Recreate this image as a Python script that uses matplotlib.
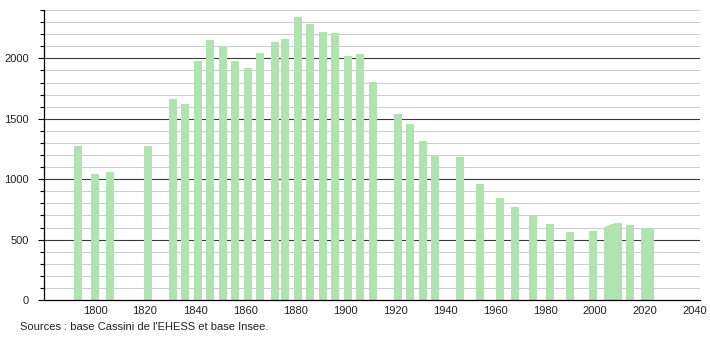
import matplotlib
matplotlib.use("Agg")
import matplotlib.pyplot as plt
from matplotlib.ticker import MultipleLocator

plt.rcParams['font.family'] = ['Liberation Sans', 'DejaVu Sans']

# census years and population
annees = [1793, 1800, 1806, 1821, 1831, 1836, 1841, 1846, 1851, 1856,
          1861, 1866, 1872, 1876, 1881, 1886, 1891, 1896, 1901, 1906,
          1911, 1921, 1926, 1931, 1936, 1946, 1954, 1962, 1968, 1975,
          1982, 1990, 1999, 2005, 2006, 2007, 2008, 2009, 2014,
          2020, 2021, 2022]
population = [1277, 1045, 1061, 1277, 1667, 1625, 1982, 2148, 2106, 1982,
              1924, 2048, 2139, 2164, 2338, 2280, 2222, 2206, 2023, 2032,
              1808, 1542, 1459, 1318, 1194, 1186, 962, 846, 771, 697,
              630, 564, 572, 608, 616, 624, 632, 640, 622,
              595, 595, 595]

x_ticks = [1800, 1820, 1840, 1860, 1880, 1900, 1920, 1940, 1960, 1980,
           2000, 2020, 2040]
y_ticks = [0, 500, 1000, 1500, 2000]
source = "Sources : base Cassini de l'EHESS et base Insee."

fig = plt.figure(figsize=(7.1, 3.4), dpi=100)
ax = fig.add_axes([0.062, 0.1176, 0.924, 0.853])

# grid lines: light every 100, dark every 500
for v in range(100, 2401, 100):
    if v % 500 == 0:
        ax.axhline(v, color='#3a3a3a', lw=0.8, zorder=1)
    else:
        ax.axhline(v, color='#cccccc', lw=0.75, zorder=1)

ax.bar(annees, population, width=3.2, color='#b1e3b1', zorder=2)

ax.set_xlim(1779.6, 2042)
ax.set_ylim(0, 2400)
ax.set_xticks(x_ticks)
ax.set_yticks(y_ticks)
ax.yaxis.set_minor_locator(MultipleLocator(100))

for s in ['top', 'right']:
    ax.spines[s].set_visible(False)
ax.spines['left'].set_color('black')
ax.spines['bottom'].set_color('black')
ax.spines['left'].set_linewidth(0.9)
ax.spines['bottom'].set_linewidth(0.9)

ax.tick_params(axis='x', length=0, pad=4, labelsize=8, labelcolor='#222222')
ax.tick_params(axis='y', which='major', length=4, width=0.8, pad=7,
               labelsize=8, labelcolor='#222222')
ax.tick_params(axis='y', which='minor', length=3, width=0.8)

fig.text(20 / 710, 1 - 327 / 340, source, fontsize=8, color='#222222',
         va='center', ha='left')

fig.savefig('out.png', dpi=100)
